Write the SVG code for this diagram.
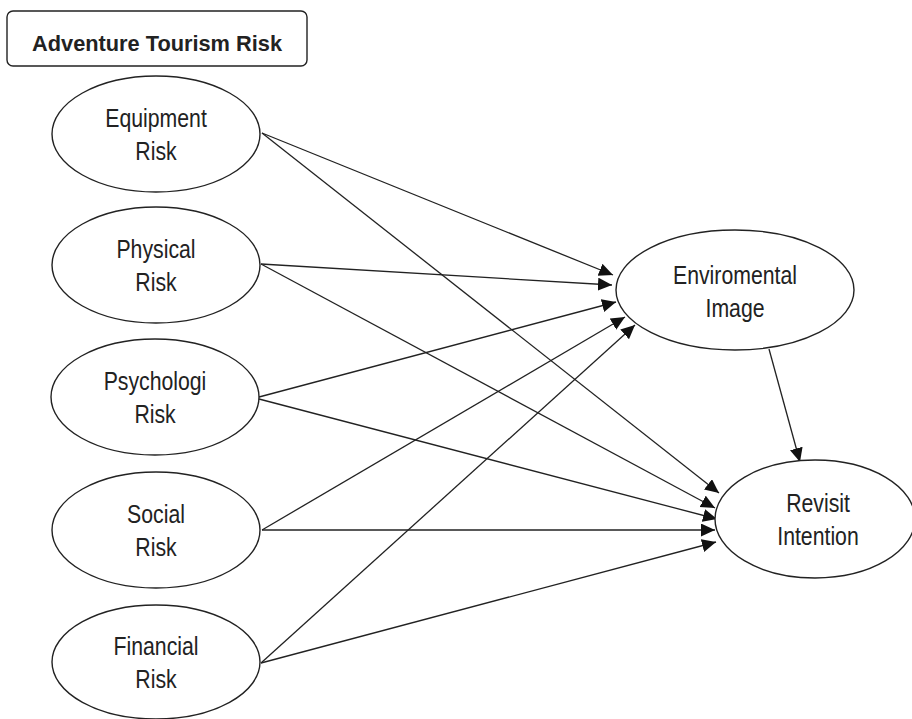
<svg xmlns="http://www.w3.org/2000/svg" width="912" height="719" viewBox="0 0 912 719">
<style>
.node ellipse{fill:#fff;stroke:#222;stroke-width:1.4}
.title rect{fill:#fff;stroke:#222;stroke-width:1.4}
text{font-family:"Liberation Sans",Arial,sans-serif;font-size:25px;fill:#222;text-anchor:middle}
.node text{transform-box:fill-box;transform-origin:center;transform:scaleX(0.85)}
.title text{font-weight:bold;font-size:22.5px}
#connectors line{stroke:#222;stroke-width:1.3;marker-end:url(#arr)}
</style>
<defs>
<marker id="arr" markerUnits="userSpaceOnUse" markerWidth="16" markerHeight="14" refX="14" refY="6.5" orient="auto">
<path d="M0,0 L14,6.5 L0,13 z" fill="#111"/>
</marker>
</defs>
<rect width="912" height="719" fill="#fff"/>
<g id="title" class="title">
<rect x="7" y="11" width="300" height="55" rx="6"/>
<text x="157" y="50.5" textLength="250" lengthAdjust="spacingAndGlyphs">Adventure Tourism Risk</text>
</g>
<g id="connectors">
<line x1="262" y1="133" x2="613" y2="275"/>
<line x1="262" y1="133" x2="719" y2="493"/>
<line x1="261" y1="264" x2="612" y2="285"/>
<line x1="261" y1="264" x2="715" y2="508"/>
<line x1="259" y1="397" x2="616" y2="302"/>
<line x1="259" y1="399" x2="717" y2="519"/>
<line x1="262" y1="530" x2="625" y2="317"/>
<line x1="262" y1="530" x2="715" y2="530"/>
<line x1="261" y1="663" x2="635" y2="325"/>
<line x1="261" y1="663" x2="716" y2="542"/>
<line x1="769" y1="349" x2="800" y2="462"/>
</g>
<g id="equipment" class="node">
<ellipse cx="156" cy="134" rx="104" ry="58"/>
<text x="156" y="127">Equipment</text>
<text x="156" y="160">Risk</text>
</g>
<g id="physical" class="node">
<ellipse cx="156" cy="265" rx="104" ry="58"/>
<text x="156" y="258">Physical</text>
<text x="156" y="291">Risk</text>
</g>
<g id="psychologi" class="node">
<ellipse cx="155" cy="397" rx="104" ry="58"/>
<text x="155" y="390">Psychologi</text>
<text x="155" y="423">Risk</text>
</g>
<g id="social" class="node">
<ellipse cx="156" cy="530" rx="104" ry="58"/>
<text x="156" y="523">Social</text>
<text x="156" y="556">Risk</text>
</g>
<g id="financial" class="node">
<ellipse cx="156" cy="662" rx="104" ry="57"/>
<text x="156" y="655">Financial</text>
<text x="156" y="688">Risk</text>
</g>
<g id="environmental" class="node">
<ellipse cx="735" cy="290" rx="119" ry="60"/>
<text x="735" y="284">Enviromental</text>
<text x="735" y="317">Image</text>
</g>
<g id="revisit" class="node">
<ellipse cx="815" cy="519" rx="100" ry="59"/>
<text x="818" y="512">Revisit</text>
<text x="818" y="545">Intention</text>
</g>
</svg>
